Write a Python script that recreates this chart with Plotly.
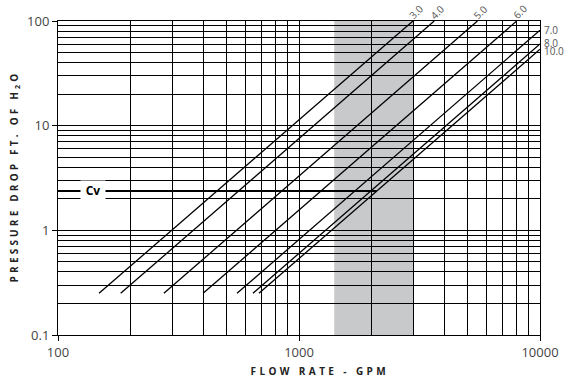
import math
import plotly.graph_objects as go

# ---- data ----
line_labels = ["3.0", "4.0", "5.0", "6.0", "7.0", "8.0", "10.0"]
start_flow = [148, 182, 275, 400, 553, 644, 682]
start_dp = [0.25, 0.25, 0.25, 0.25, 0.25, 0.25, 0.25]
end_flow = [2970, 3640, 5500, 8000, 10000, 10000, 10000]
end_dp = [100, 100, 100, 100, 81.7, 60.3, 53.7]

cv_flow = [100, 2100]
cv_dp = [2.38, 2.38]
cv_label_flow = 140

band_flow = [1400, 3000]

x_ticks = [100, 1000, 10000]
x_ticktext = ["100", "1000", "10000"]
y_ticks = [0.1, 1, 10, 100]
y_ticktext = ["0.1", "1", "10", "100"]

# label nudges (pixels) for the right-hand labels
label_yshift = {"7.0": 0, "8.0": 1, "10.0": -2}

FONT = "Open Sans"
GRAY = "#555555"

# plot-area geometry in pixels
W, H = 569, 383
L, R, T, B = 58, 540, 21, 335
PW, PH = R - L, B - T

fig = go.Figure()

for x0, y0, x1, y1 in zip(start_flow, start_dp, end_flow, end_dp):
    fig.add_trace(go.Scatter(x=[x0, x1], y=[y0, y1], mode="lines",
                             line=dict(color="black", width=1.3),
                             showlegend=False, hoverinfo="skip"))

fig.add_trace(go.Scatter(x=cv_flow, y=cv_dp, mode="lines",
                         line=dict(color="black", width=2),
                         showlegend=False, hoverinfo="skip"))

fig.add_shape(type="rect", xref="x", yref="paper", x0=band_flow[0], x1=band_flow[1],
              y0=0, y1=1, fillcolor="#c8c9cb", line=dict(width=0), layer="below")

# line labels
for lab, x1, y1 in zip(line_labels, end_flow, end_dp):
    if y1 >= 100:
        fig.add_annotation(x=math.log10(x1), y=math.log10(y1), xref="x", yref="y",
                           text=lab, showarrow=False, textangle=-45,
                           xshift=3, yshift=9,
                           font=dict(family=FONT, size=10, color=GRAY))
    else:
        fig.add_annotation(x=math.log10(x1), y=math.log10(y1), xref="x", yref="y",
                           text=lab, showarrow=False, xanchor="left", xshift=2,
                           yshift=label_yshift.get(lab, 0),
                           font=dict(family=FONT, size=10, color=GRAY))

# Cv label
fig.add_annotation(x=math.log10(cv_label_flow), y=math.log10(cv_dp[0]), xref="x", yref="y",
                   text="<b>Cv</b>", showarrow=False,
                   bgcolor="white", width=22, height=17,
                   font=dict(family=FONT, size=12, color="black"))

# axis titles (pixel positioned)
fig.add_annotation(xref="paper", yref="paper", x=(320 - L) / PW, y=-(371 - B) / PH,
                   xanchor="center", yanchor="middle", text="<b>FLOW RATE - GPM</b>",
                   showarrow=False, font=dict(family=FONT, size=10, color="#222"))
fig.add_annotation(xref="paper", yref="paper", x=-(L - 14) / PW, y=(B - 177) / PH,
                   text="<b>PRESSURE DROP FT. OF H<sub>2</sub>O</b>", textangle=-90,
                   showarrow=False, xanchor="center", yanchor="middle",
                   font=dict(family=FONT, size=10, color="#222"))

fig.update_layout(
    width=W, height=H,
    margin=dict(l=L, r=W - R, t=T, b=H - B, autoexpand=False),
    plot_bgcolor="white", paper_bgcolor="white",
    showlegend=False,
    font=dict(family=FONT, size=13, color="#444"),
)

axis_common = dict(
    type="log", showgrid=True, gridcolor="black", gridwidth=1,
    minor=dict(dtick="D1", showgrid=True, gridcolor="black", gridwidth=1, ticks=""),
    ticks="outside", ticklen=5, tickcolor="black",
    showline=True, linecolor="black", linewidth=1, mirror=True,
    tickfont=dict(family=FONT, size=13, color="#444"), zeroline=False, automargin=False,
)
fig.update_xaxes(range=[2, 4], tickvals=x_ticks, ticktext=x_ticktext, **axis_common)
fig.update_yaxes(range=[-1, 2], tickvals=y_ticks, ticktext=y_ticktext, **axis_common)

post = """
document.body.style.margin='0';
document.body.style.overflow='hidden';
document.querySelectorAll('text').forEach(function(t){
  var s = t.textContent || '';
  if (s.indexOf('FLOW RATE') === 0) { t.style.letterSpacing = '3.4px'; }
  if (s.indexOf('PRESSURE DROP') === 0) { t.style.letterSpacing = '3.2px'; }
});
"""

fig.write_html("out.html", config={"displayModeBar": False}, post_script=post)
